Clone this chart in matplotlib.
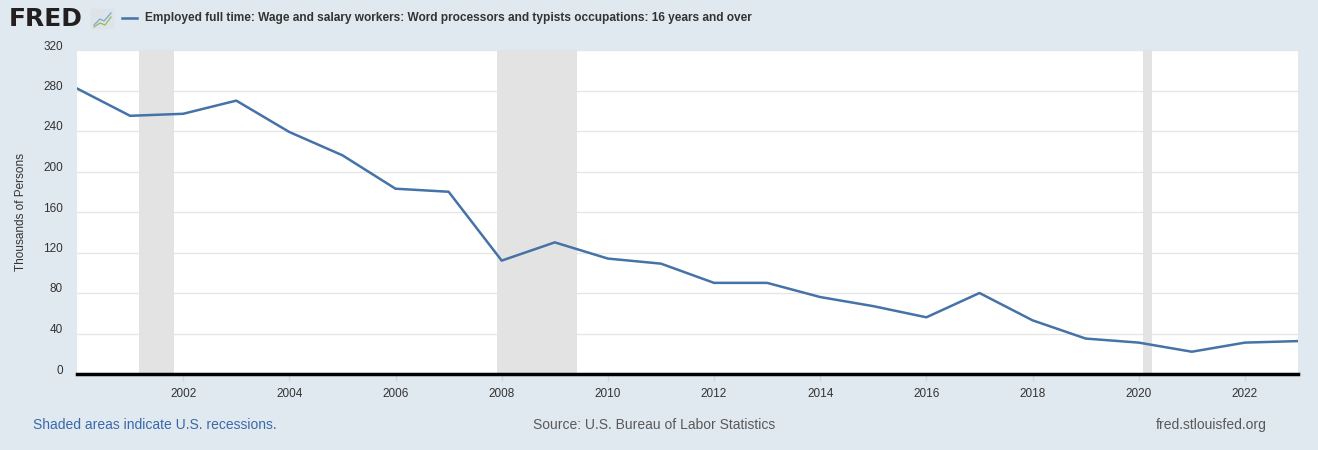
import matplotlib.pyplot as plt
from matplotlib.transforms import ScaledTranslation
from matplotlib.patches import FancyBboxPatch

plt.rcParams['font.family'] = ['Liberation Sans', 'DejaVu Sans']

# annual values, thousands of persons
years = list(range(2000, 2024))
values = [282, 255, 257, 270, 239, 216, 183, 180, 112, 130, 114, 109,
          90, 90, 76, 67, 56, 80, 53, 35, 31, 22, 31, 32.5]

# US recessions (decimal years)
recessions = [(2001 + 2/12, 2001 + 10/12), (2007 + 11/12, 2009 + 5/12), (2020 + 1/12, 2020 + 3/12)]

yticks = [0, 40, 80, 120, 160, 200, 240, 280, 320]
xticks = list(range(2002, 2024, 2))

title = "Employed full time: Wage and salary workers: Word processors and typists occupations: 16 years and over"

bg = '#e1e9f0'
line_col = '#4572a7'

fig = plt.figure(figsize=(13.18, 4.5), dpi=100, facecolor=bg)
ax = fig.add_axes([77/1318, 76/450, 1221/1318, 324/450])
ax.set_facecolor('white')

for a, b in recessions:
    ax.axvspan(a, b, color='#e3e3e3', lw=0, zorder=1)

ax.plot(years, values, color=line_col, lw=1.8, zorder=3)

ax.set_xlim(2000, 2023)
ax.set_ylim(0, 320)
ax.set_yticks(yticks)
ax.set_xticks(xticks)
ax.set_xticklabels([str(x) for x in xticks])
ax.grid(axis='y', color='#e6e6e6', lw=1, zorder=0)
ax.set_axisbelow(True)

for s in ['top', 'right', 'left']:
    ax.spines[s].set_visible(False)
ax.spines['bottom'].set_color('black')
ax.spines['bottom'].set_linewidth(2.5)
ax.spines['bottom'].set_zorder(4)

ax.tick_params(axis='y', length=0, pad=10, labelsize=8.5, labelcolor='#333333')
ax.tick_params(axis='x', length=5, width=1, color='#ccd6eb', pad=5, labelsize=8.5, labelcolor='#333333')
for lab in ax.get_yticklabels():
    lab.set_transform(lab.get_transform() + ScaledTranslation(0, 5/100, fig.dpi_scale_trans))

ax.set_ylabel("Thousands of Persons", fontsize=8.5, color='#333333')
ax.yaxis.set_label_coords(-0.041, 0.5)

# header: logo + legend
fig.text(9/1318, 1 - 19/450, "FRED", fontsize=18, fontweight='heavy', color='#231f20',
         va='center', ha='left', family='DejaVu Sans')
icon = FancyBboxPatch((92/1318, 1 - 29/450), 21/1318, 20/450, boxstyle='round,pad=0.001',
                      transform=fig.transFigure, facecolor='#dde3e8', edgecolor='none')
fig.patches.append(icon)
fig.lines.append(plt.Line2D([94/1318, 100/1318, 104/1318, 111/1318],
                            [1 - 25/450, 1 - 19/450, 1 - 21/450, 1 - 13/450],
                            transform=fig.transFigure, color='#7fa7d0', lw=0.9))
fig.lines.append(plt.Line2D([94/1318, 100/1318, 105/1318, 111/1318],
                            [1 - 27/450, 1 - 23/450, 1 - 25/450, 1 - 17/450],
                            transform=fig.transFigure, color='#8cbf5a', lw=0.9))
fig.lines.append(plt.Line2D([122/1318, 137/1318], [1 - 18/450, 1 - 18/450],
                            transform=fig.transFigure, color=line_col, lw=1.8))
fig.text(145/1318, 1 - 18/450, title, fontsize=8.6, fontweight='bold', color='#333333',
         va='center', ha='left')

# footer
fig.text(33/1318, 1 - 425/450, "Shaded areas indicate U.S. recessions.", fontsize=10,
         color='#3a68a8', va='center', ha='left')
fig.text(654/1318, 1 - 425/450, "Source: U.S. Bureau of Labor Statistics", fontsize=10,
         color='#595959', va='center', ha='center')
fig.text(1267/1318, 1 - 425/450, "fred.stlouisfed.org", fontsize=10,
         color='#595959', va='center', ha='right')

fig.savefig('out.png', dpi=100, facecolor=bg)
